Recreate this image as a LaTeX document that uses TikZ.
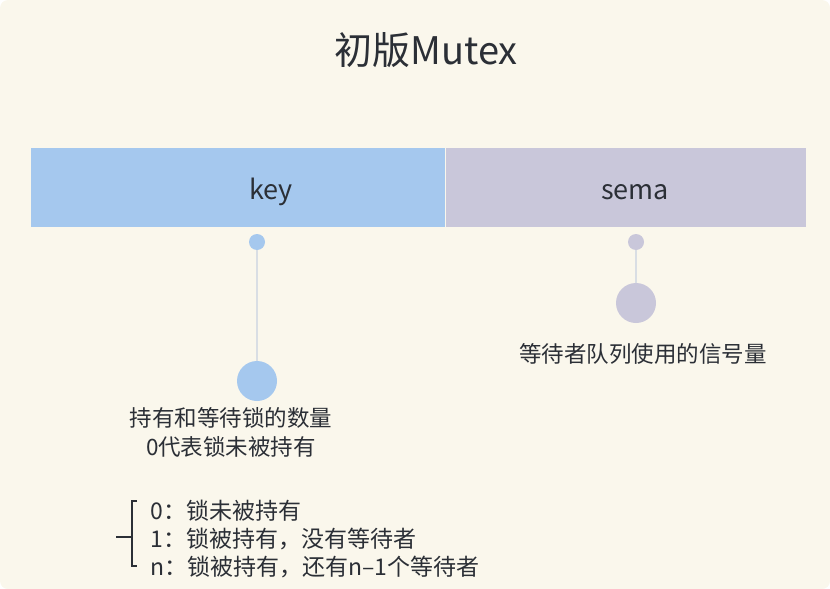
\documentclass[tikz,border=0pt]{standalone}
\usepackage{fontspec}
\setmainfont{Noto Sans CJK SC}
\usetikzlibrary{positioning}
\definecolor{bgcol}{HTML}{FAF7EC}
\definecolor{keycol}{HTML}{A5C8EE}
\definecolor{semacol}{HTML}{C9C7DA}
\definecolor{txtcol}{HTML}{2B2F36}
\definecolor{stemcol}{HTML}{D9DEE4}
\tikzset{field/.style={minimum height=79pt, inner sep=0pt},
  dot/.style={circle, inner sep=0pt, minimum size=#1},
  note/.style={font=\fontsize{22.5}{29}\selectfont, align=center}}
\begin{document}
\begin{tikzpicture}[x=1pt,y=-1pt, text=txtcol]
\fill[bgcol, rounded corners=8pt] (0,0) rectangle (830,589);
\useasboundingbox (0,0) rectangle (830,589);
\node (title) at (426,50) {\fontsize{38}{44}\selectfont 初版Mutex};
% the two fields of the struct
\node[field, fill=keycol, minimum width=414pt, anchor=north west] (key) at (31,148) {};
\node[field, fill=semacol, minimum width=360pt, anchor=north west] (sema) at (key.north east) {};
\node[font=\fontsize{27}{32}\selectfont] at (271,192) {key};
\node[font=\fontsize{27}{32}\selectfont] at (635,192) {sema};
% pins
\node[dot=16pt, fill=keycol] (kpin) at (257,242) {};
\node[dot=40pt, fill=keycol] (khead) at (257,381) {};
\node[dot=16pt, fill=semacol] (spin) at (636,242) {};
\node[dot=40pt, fill=semacol] (shead) at (636,303) {};
\draw[stemcol, line width=1.5pt] (kpin) -- (khead);
\draw[stemcol, line width=1.5pt] (spin) -- (shead);
\node[note] (snote) at (643,354) {等待者队列使用的信号量};
\node[note] (knote) at (231,432) {持有和等待锁的数量\\0代表锁未被持有};
% values of key
\node[note, font=\fontsize{23}{28}\selectfont, align=left, anchor=west] (vals) at (147,539) {0：锁未被持有\\1：锁被持有，没有等待者\\n：锁被持有，还有n–1个等待者};
\draw[txtcol, line width=2pt] (137,501) -- (132,501) -- (132,566) -- (137,566);
\draw[txtcol, line width=2pt] (132,537) -- (116,537);
\end{tikzpicture}
\end{document}
